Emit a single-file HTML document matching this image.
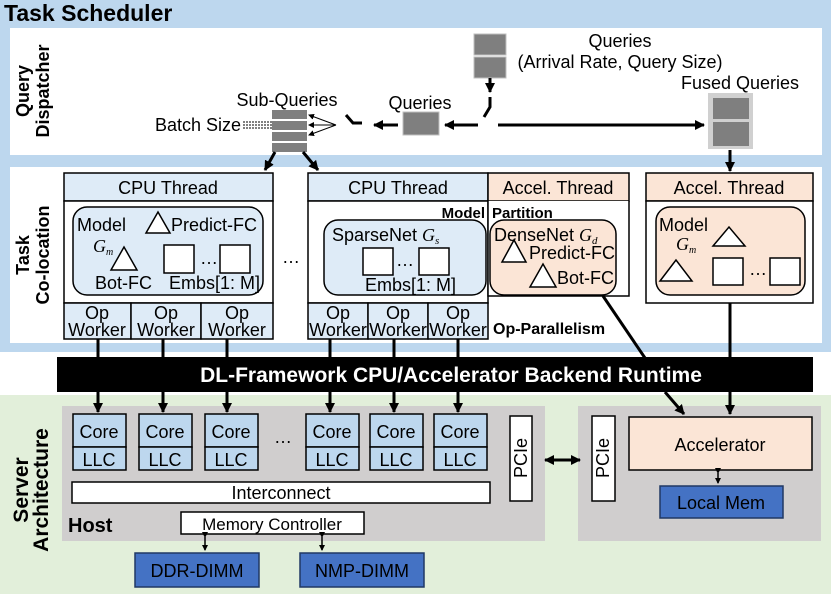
<!DOCTYPE html>
<html><head><meta charset="utf-8"><style>
html,body{margin:0;padding:0;background:#fff}
svg{display:block;font-family:"Liberation Sans",sans-serif}
.t{font-size:18px;fill:#000}
.b{font-weight:bold}
</style></head><body>
<svg width="831" height="594" viewBox="0 0 831 594" xmlns="http://www.w3.org/2000/svg">
<defs>
<marker id="a" markerWidth="6" markerHeight="6" refX="5" refY="3" orient="auto" markerUnits="userSpaceOnUse" viewBox="0 0 6 6"><path d="M0,0 L6,3 L0,6z"/></marker>
<marker id="ab" markerWidth="10" markerHeight="10" refX="9" refY="5" orient="auto" markerUnits="userSpaceOnUse" viewBox="0 0 10 10"><path d="M0,0 L10,5 L0,10z"/></marker>
<marker id="as" markerWidth="10" markerHeight="10" refX="1" refY="5" orient="auto" markerUnits="userSpaceOnUse" viewBox="0 0 10 10"><path d="M10,0 L0,5 L10,10z"/></marker>
</defs>
<rect x="0" y="0" width="831" height="352" fill="#bdd7ee"/>
<rect x="0" y="395" width="831" height="199" fill="#e2efda"/>
<text x="4" y="21" class="b" font-size="23">Task Scheduler</text>
<rect x="10" y="28" width="812" height="127" fill="#fff"/>
<rect x="10" y="167" width="812" height="176" fill="#fff"/>
<g class="b" font-size="18" text-anchor="middle">
<text transform="translate(29,91) rotate(-90)">Query</text>
<text transform="translate(49,91) rotate(-90)">Dispatcher</text>
<text transform="translate(29,255) rotate(-90)">Task</text>
<text transform="translate(49,255) rotate(-90)">Co-location</text>
<text transform="translate(28,490) rotate(-90)" font-size="21">Server</text>
<text transform="translate(48,490) rotate(-90)" font-size="21">Architecture</text>
</g>
<g fill="#7f7f7f" stroke="#bfbfbf">
<rect x="474" y="34" width="32" height="21"/><rect x="474" y="57" width="32" height="21"/>
<rect x="403" y="112" width="36" height="23"/>
</g>
<rect x="708" y="93" width="45" height="56" fill="#d0d0d0"/>
<rect x="713" y="98" width="36" height="21" fill="#7f7f7f"/><rect x="713" y="122" width="36" height="24" fill="#7f7f7f"/>
<g fill="#7f7f7f"><rect x="272" y="110" width="35" height="9"/><rect x="272" y="121" width="35" height="9"/><rect x="272" y="132" width="35" height="9"/><rect x="272" y="143" width="35" height="9"/></g>
<g class="t" text-anchor="middle">
<text x="620" y="47">Queries</text>
<text x="620" y="68">(Arrival Rate, Query Size)</text>
<text x="740" y="89">Fused Queries</text>
<text x="420" y="109">Queries</text>
<text x="287" y="106">Sub-Queries</text>
<text x="241" y="131" text-anchor="end">Batch Size</text>
</g>
<g stroke="#000" stroke-width="1" stroke-dasharray="2,1"><line x1="243" y1="122" x2="272" y2="122"/><line x1="243" y1="125" x2="272" y2="125"/><line x1="243" y1="128" x2="272" y2="128"/></g>
<g stroke="#000" stroke-width="3" fill="none">
<line x1="490" y1="78" x2="490" y2="92" marker-end="url(#ab)"/>
<polyline points="490,97 490,107 484,117"/>
<line x1="478" y1="125" x2="445" y2="125" marker-end="url(#ab)"/>
<line x1="398" y1="125" x2="374" y2="125" marker-end="url(#ab)"/>
<polyline points="346,115 353,123 362,123"/>
<line x1="498" y1="125" x2="704" y2="125" marker-end="url(#ab)"/>
<line x1="730" y1="150" x2="730" y2="171" marker-end="url(#ab)"/>
<line x1="275" y1="152" x2="265" y2="170" marker-end="url(#ab)"/>
<line x1="303" y1="152" x2="318" y2="170" marker-end="url(#ab)"/>
</g>
<g stroke="#000" stroke-width="1"><line x1="336" y1="125" x2="309" y2="115" marker-end="url(#a)"/><line x1="336" y1="125" x2="309" y2="125" marker-end="url(#a)"/><line x1="336" y1="125" x2="309" y2="135" marker-end="url(#a)"/></g>
<g stroke="#000" stroke-width="1.5">
<rect x="64" y="173" width="209" height="28" fill="#deebf7"/>
<rect x="64" y="201" width="209" height="102" fill="#fff"/>
<rect x="64" y="303" width="67" height="36" fill="#deebf7"/><rect x="131" y="303" width="70" height="36" fill="#deebf7"/><rect x="201" y="303" width="72" height="36" fill="#deebf7"/>
<rect x="73" y="207" width="190" height="88" rx="14" fill="#deebf7"/>
<path d="M146,233 L158,212 L170,233z" fill="#fff"/>
<path d="M111,270 L124,247 L137,270z" fill="#fff"/>
<rect x="164" y="245" width="30" height="28" fill="#fff"/><rect x="220" y="245" width="30" height="28" fill="#fff"/>
<rect x="308" y="173" width="180" height="28" fill="#deebf7"/>
<rect x="308" y="201" width="180" height="102" fill="#fff"/>
<rect x="308" y="303" width="60" height="36" fill="#deebf7"/><rect x="368" y="303" width="60" height="36" fill="#deebf7"/><rect x="428" y="303" width="60" height="36" fill="#deebf7"/>
<rect x="324" y="220" width="162" height="75" rx="14" fill="#deebf7"/>
<rect x="363" y="248" width="30" height="27" fill="#fff"/><rect x="419" y="248" width="30" height="27" fill="#fff"/>
<rect x="488" y="173" width="141" height="28" fill="#fbe5d6"/>
<path d="M488,201 V296 H629 V201" fill="#fff"/>
<rect x="490" y="220" width="126" height="75" rx="14" fill="#fbe5d6"/>
<path d="M502,262 L514,240 L526,262z" fill="#fff"/>
<path d="M530,287 L543,264 L556,287z" fill="#fff"/>
<rect x="646" y="173" width="167" height="28" fill="#fbe5d6"/>
<rect x="646" y="201" width="167" height="102" fill="#fff"/>
<rect x="656" y="207" width="149" height="88" rx="14" fill="#fbe5d6"/>
<path d="M713,246 L729,227 L745,246z" fill="#fff"/>
<path d="M660,281 L676,260 L692,281z" fill="#fff"/>
<rect x="713" y="258" width="30" height="27" fill="#fff"/><rect x="770" y="258" width="30" height="27" fill="#fff"/>
</g>
<g class="t" text-anchor="middle" font-size="19">
<text x="168" y="194">CPU Thread</text><text x="398" y="194">CPU Thread</text>
<text x="558" y="194">Accel. Thread</text><text x="729" y="194">Accel. Thread</text>
</g>
<g class="t" font-size="15">
<text x="77" y="231" font-size="18">Model</text><text x="171" y="231">Predict-FC</text>
<text x="93" y="252" font-family="Liberation Serif" font-style="italic">G<tspan font-size="10" dy="3">m</tspan></text>
<text x="95" y="289">Bot-FC</text><text x="169" y="289">Embs[1: M]</text>
<text x="200" y="264">…</text>
<text x="332" y="241" font-size="18">SparseNet <tspan font-family="Liberation Serif" font-style="italic">G<tspan font-size="11" dy="3">s</tspan></tspan></text>
<text x="396" y="266">…</text><text x="365" y="291">Embs[1: M]</text>
<text x="494" y="241" font-size="18">DenseNet <tspan font-family="Liberation Serif" font-style="italic">G<tspan font-size="11" dy="3">d</tspan></tspan></text>
<text x="529" y="259">Predict-FC</text><text x="557" y="284">Bot-FC</text>
<text x="659" y="231" font-size="18">Model</text>
<text x="676" y="250" font-family="Liberation Serif" font-style="italic">G<tspan font-size="10" dy="3">m</tspan></text>
<text x="749" y="275">…</text>
<text x="282" y="263">…</text>
<text x="485" y="218" class="b" font-size="15" text-anchor="end">Model</text>
<text x="492" y="218" class="b" font-size="15">Partition</text>
<text x="493" y="334" class="b" font-size="16">Op-Parallelism</text>
</g>
<g class="t" font-size="16" text-anchor="middle">
<text x="97" y="319">Op</text><text x="97" y="336">Worker</text>
<text x="166" y="319">Op</text><text x="166" y="336">Worker</text>
<text x="237" y="319">Op</text><text x="237" y="336">Worker</text>
<text x="338" y="319">Op</text><text x="338" y="336">Worker</text>
<text x="398" y="319">Op</text><text x="398" y="336">Worker</text>
<text x="458" y="319">Op</text><text x="458" y="336">Worker</text>
</g>
<g stroke="#000" stroke-width="3">
<line x1="98" y1="339" x2="98" y2="358"/><line x1="163" y1="339" x2="163" y2="358"/><line x1="227" y1="339" x2="227" y2="358"/>
<line x1="330" y1="339" x2="330" y2="358"/><line x1="394" y1="339" x2="394" y2="358"/><line x1="458" y1="339" x2="458" y2="358"/>
<line x1="603" y1="296" x2="645" y2="358"/><line x1="730" y1="303" x2="730" y2="358"/>
</g>
<rect x="57" y="357" width="756" height="35" fill="#000"/>
<text x="451" y="382" text-anchor="middle" fill="#fff" class="b" font-size="21">DL-Framework CPU/Accelerator Backend Runtime</text>
<rect x="62" y="406" width="483" height="135" fill="#d0cece"/>
<rect x="578" y="406" width="243" height="135" fill="#d0cece"/>
<g stroke="#000" stroke-width="3">
<line x1="98" y1="392" x2="98" y2="412" marker-end="url(#ab)"/><line x1="163" y1="392" x2="163" y2="412" marker-end="url(#ab)"/><line x1="227" y1="392" x2="227" y2="412" marker-end="url(#ab)"/>
<line x1="330" y1="392" x2="330" y2="412" marker-end="url(#ab)"/><line x1="394" y1="392" x2="394" y2="412" marker-end="url(#ab)"/><line x1="458" y1="392" x2="458" y2="412" marker-end="url(#ab)"/>
<line x1="665" y1="392" x2="684" y2="414" marker-end="url(#ab)"/><line x1="730" y1="392" x2="730" y2="414" marker-end="url(#ab)"/>
<line x1="545" y1="460" x2="580" y2="460" marker-end="url(#ab)" marker-start="url(#as)"/>
</g>
<g stroke="#000" stroke-width="1.5" fill="#bdd7ee">
<rect x="73" y="414" width="53" height="33"/><rect x="73" y="447" width="53" height="23"/>
<rect x="139" y="414" width="53" height="33"/><rect x="139" y="447" width="53" height="23"/>
<rect x="205" y="414" width="53" height="33"/><rect x="205" y="447" width="53" height="23"/>
<rect x="306" y="414" width="53" height="33"/><rect x="306" y="447" width="53" height="23"/>
<rect x="370" y="414" width="53" height="33"/><rect x="370" y="447" width="53" height="23"/>
<rect x="434" y="414" width="53" height="33"/><rect x="434" y="447" width="53" height="23"/>
<rect x="72" y="482" width="418" height="21" fill="#fff"/>
<rect x="510" y="416" width="22" height="85" fill="#fff"/>
<rect x="592" y="416" width="23" height="85" fill="#fff"/>
<rect x="629" y="417" width="183" height="53" fill="#fbe5d6"/>
<rect x="660" y="486" width="123" height="32" fill="#4472c4" stroke="#203864"/>
<rect x="181" y="512" width="183" height="22" fill="#fff"/>
<rect x="135" y="553" width="124" height="34" fill="#4472c4" stroke="#203864"/>
<rect x="300" y="553" width="124" height="34" fill="#4472c4" stroke="#203864"/>
</g>
<g stroke="#000" stroke-width="1.5">
<line x1="718" y1="473" x2="718" y2="483" marker-end="url(#a)" marker-start="url(#a)"/>
<line x1="205" y1="537" x2="205" y2="550" marker-end="url(#a)" marker-start="url(#a)"/>
<line x1="322" y1="537" x2="322" y2="550" marker-end="url(#a)" marker-start="url(#a)"/>
</g>
<g class="t" font-size="18" text-anchor="middle">
<text x="99" y="438">Core</text><text x="99" y="466">LLC</text>
<text x="165" y="438">Core</text><text x="165" y="466">LLC</text>
<text x="231" y="438">Core</text><text x="231" y="466">LLC</text>
<text x="332" y="438">Core</text><text x="332" y="466">LLC</text>
<text x="396" y="438">Core</text><text x="396" y="466">LLC</text>
<text x="460" y="438">Core</text><text x="460" y="466">LLC</text>
<text x="283" y="443">…</text>
<text x="281" y="499">Interconnect</text>
<text x="720" y="451">Accelerator</text>
<text x="721" y="509">Local Mem</text>
<text x="272" y="530" font-size="17">Memory Controller</text>
<text x="197" y="577">DDR-DIMM</text><text x="362" y="577">NMP-DIMM</text>
<text transform="translate(527,458) rotate(-90)">PCIe</text>
<text transform="translate(609,458) rotate(-90)">PCIe</text>
</g>
<text x="68" y="532" class="b" font-size="20">Host</text>
</svg>
</body></html>
